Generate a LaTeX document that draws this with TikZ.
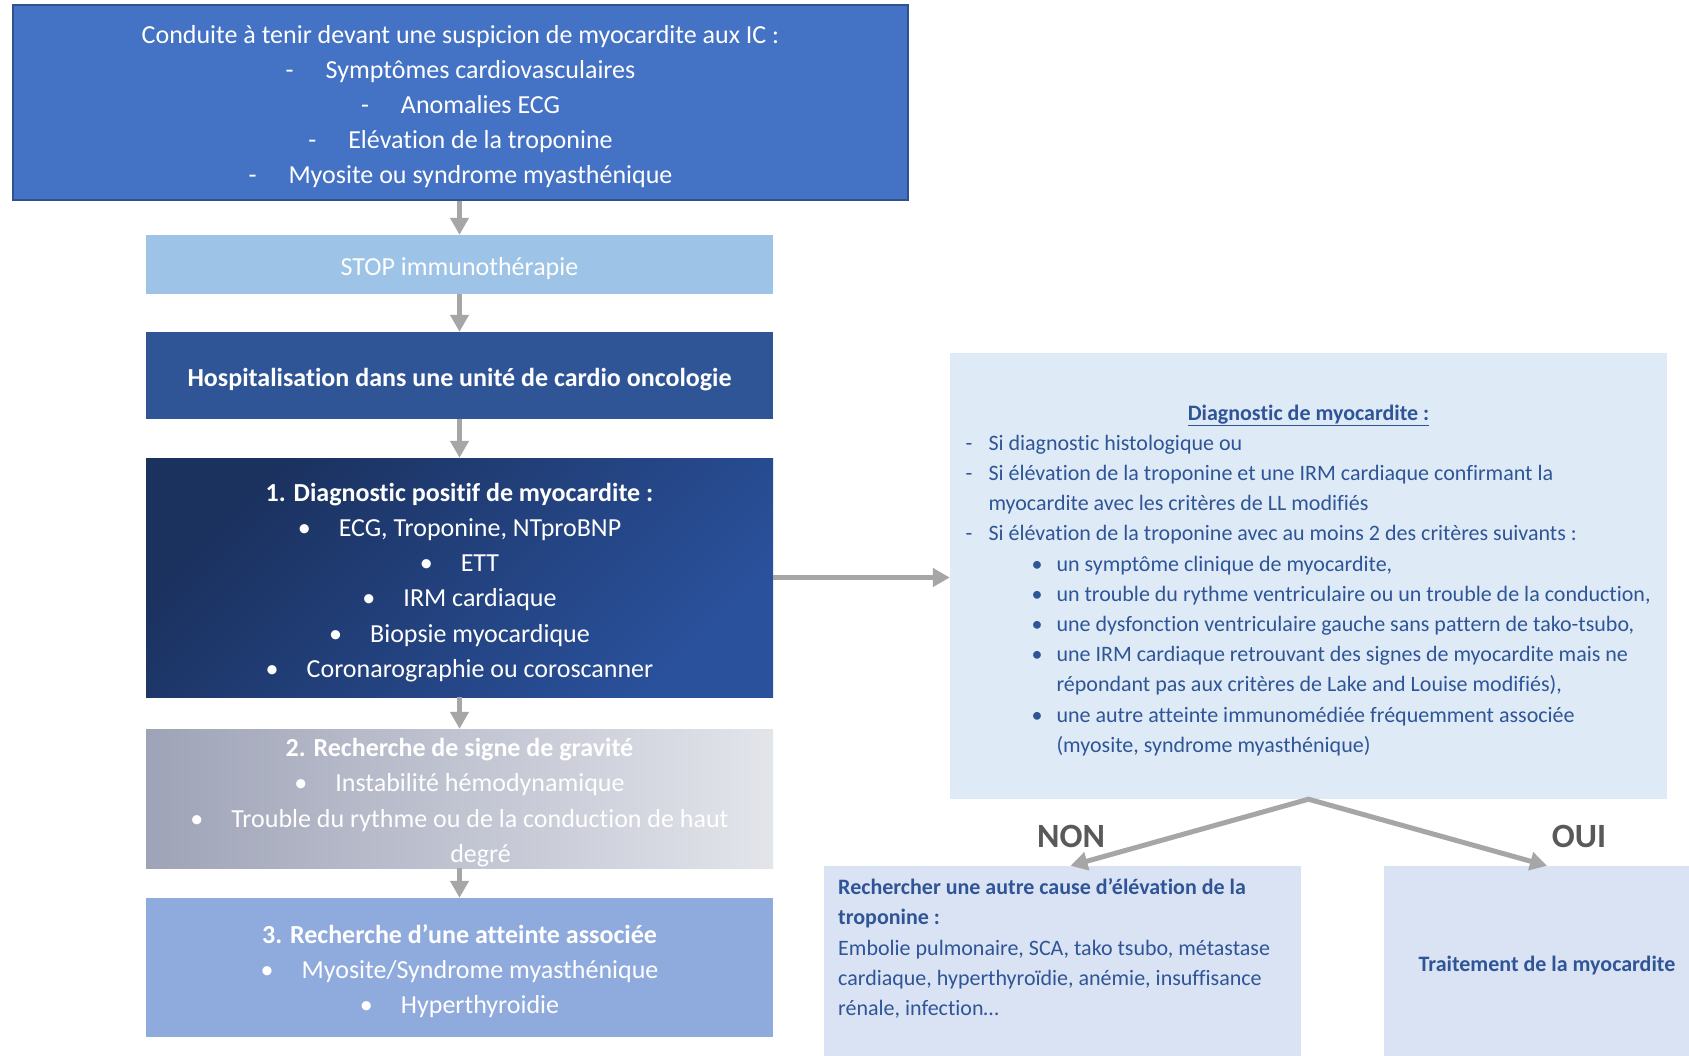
\documentclass[tikz,border=0pt]{standalone}
\usepackage{fontspec}
\setmainfont{Carlito}[Ligatures={NoCommon}]
\usetikzlibrary{arrows.meta}
\definecolor{topblue}{HTML}{4472C4}
\definecolor{topborder}{HTML}{2F528F}
\definecolor{stopblue}{HTML}{9DC3E6}
\definecolor{hospblue}{HTML}{2F5597}
\definecolor{boxonedark}{HTML}{1B315E}
\definecolor{boxonelight}{HTML}{2A519C}
\definecolor{greyleft}{HTML}{9EA3B7}
\definecolor{greyright}{HTML}{E3E5EB}
\definecolor{boxthree}{HTML}{8FAADC}
\definecolor{paleblue}{HTML}{DEEBF7}
\definecolor{paleblue2}{HTML}{DAE3F3}
\definecolor{textblue}{HTML}{2F5597}
\definecolor{arrowgrey}{HTML}{A6A6A6}
\definecolor{labelgrey}{HTML}{595959}
\newcommand{\firstup}[1]{\rule{0pt}{#1}}
\begin{document}
\begin{tikzpicture}[x=1pt,y=-1pt,
  lbox/.style={inner sep=0pt, align=center, text=white, minimum width=627pt,
    font=\fontsize{26}{35.2}\selectfont},
  arr/.style={draw=arrowgrey, line width=5pt, -{Triangle[length=17pt,width=18pt]}},
  fork/.style={draw=arrowgrey, line width=5pt, {Triangle[length=17pt,width=18pt]}-{Triangle[length=17pt,width=18pt]}},
  paletext/.style={text=textblue, font=\fontsize{22}{30.2}\selectfont},
  yesno/.style={text=labelgrey, font=\fontsize{34}{40}\selectfont\bfseries}
]
\useasboundingbox (0,0) rectangle (1689,1055);
\fill[white] (0,0) rectangle (1689,1055);

\node[lbox, fill=topblue, draw=topborder, line width=1.5pt, minimum width=895pt, minimum height=195pt] (top) at (460.5,102.5)
{\firstup{26pt}Conduite à tenir devant une suspicion de myocardite aux IC :\\
\makebox[40pt][l]{-}Symptômes cardiovasculaires\\
\makebox[40pt][l]{-}Anomalies ECG\\
\makebox[40pt][l]{-}Elévation de la troponine\\
\makebox[40pt][l]{-}Myosite ou syndrome myasthénique};

\node[lbox, fill=stopblue, minimum height=59pt] (stop) at (459.5,264.5) {\firstup{26pt}STOP immunothérapie};

\node[lbox, fill=hospblue, minimum height=87pt, font=\fontsize{26}{35.2}\selectfont\bfseries] (hosp) at (459.5,375.5)
{\firstup{26pt}Hospitalisation dans une unité de cardio oncologie};

\node[lbox, top color=boxonedark, bottom color=boxonelight, shading angle=45, minimum height=239pt] (diag) at (459.5,577.5)
{\firstup{28pt}\textbf{1. Diagnostic positif de myocardite :}\\
\makebox[41pt][l]{•}ECG, Troponine, NTproBNP\\
\makebox[41pt][l]{•}ETT\\
\makebox[41pt][l]{•}IRM cardiaque\\
\makebox[41pt][l]{•}Biopsie myocardique\\
\makebox[41pt][l]{•}Coronarographie ou coroscanner};

\node[lbox, left color=greyleft, right color=greyright, minimum height=139pt] (grav) at (459.5,798.5)
{\firstup{26.5pt}\textbf{2. Recherche de signe de gravité}\\
\makebox[41pt][l]{•}Instabilité hémodynamique\\
\makebox[41pt][l]{•}Trouble du rythme ou de la conduction de haut\\
\hspace*{42pt}degré};

\node[lbox, fill=boxthree, minimum height=139pt] (assoc) at (459.5,967.5)
{\firstup{26.5pt}\textbf{3. Recherche d’une atteinte associée}\\
\makebox[41pt][l]{•}Myosite/Syndrome myasthénique\\
\makebox[41pt][l]{•}Hyperthyroidie};

\node[paletext, fill=paleblue, inner sep=0pt, minimum width=717pt, minimum height=446pt, align=left] (rbox) at (1308.5,576)
{\firstup{24pt}\makebox[686pt]{\textbf{\underline{Diagnostic de myocardite :}}}\\
\makebox[23pt][l]{-}Si diagnostic histologique ou\\
\makebox[23pt][l]{-}Si élévation de la troponine et une IRM cardiaque confirmant la\\
\hspace*{23pt}myocardite avec les critères de LL modifiés\\
\makebox[23pt][l]{-}Si élévation de la troponine avec au moins 2 des critères suivants :\\
\hspace*{66pt}\makebox[25pt][l]{•}un symptôme clinique de myocardite,\\
\hspace*{66pt}\makebox[25pt][l]{•}un trouble du rythme ventriculaire ou un trouble de la conduction,\\
\hspace*{66pt}\makebox[25pt][l]{•}une dysfonction ventriculaire gauche sans pattern de tako-tsubo,\\
\hspace*{66pt}\makebox[25pt][l]{•}une IRM cardiaque retrouvant des signes de myocardite mais ne\\
\hspace*{91pt}répondant pas aux critères de Lake and Louise modifiés),\\
\hspace*{66pt}\makebox[25pt][l]{•}une autre atteinte immunomédiée fréquemment associée\\
\hspace*{91pt}(myosite, syndrome myasthénique)};

\node[fill=paleblue2, inner sep=0pt, minimum width=477pt, minimum height=194pt] (nonbox) at (1062.5,963) {};
\node[paletext, inner sep=0pt, anchor=north west, align=left] (nontext) at (838,878.5)
{\textbf{Rechercher une autre cause d’élévation de la}\\
\textbf{troponine :}\\
Embolie pulmonaire, SCA, tako tsubo, métastase\\
cardiaque, hyperthyroïdie, anémie, insuffisance\\
rénale, infection…};

\node[paletext, fill=paleblue2, inner sep=0pt, minimum width=326pt, minimum height=194pt, font=\fontsize{22}{30.2}\selectfont\bfseries] (ouibox) at (1547,963)
{\firstup{20pt}Traitement de la myocardite};

\node[yesno] (non) at (1071,836) {NON};
\node[yesno] (oui) at (1579,836) {OUI};

\draw[arr] (top.south -| stop.north) -- (stop.north);
\draw[arr] (stop.south) -- (hosp.north);
\draw[arr] (hosp.south) -- (diag.north);
\draw[arr] (diag.south) -- (grav.north);
\draw[arr] (grav.south) -- (assoc.north);
\draw[arr] (diag.east) -- (diag.east -| rbox.west);
\draw[fork] ([xshift=8pt]nonbox.north) -- (rbox.south) -- (ouibox.north);
\end{tikzpicture}
\end{document}
